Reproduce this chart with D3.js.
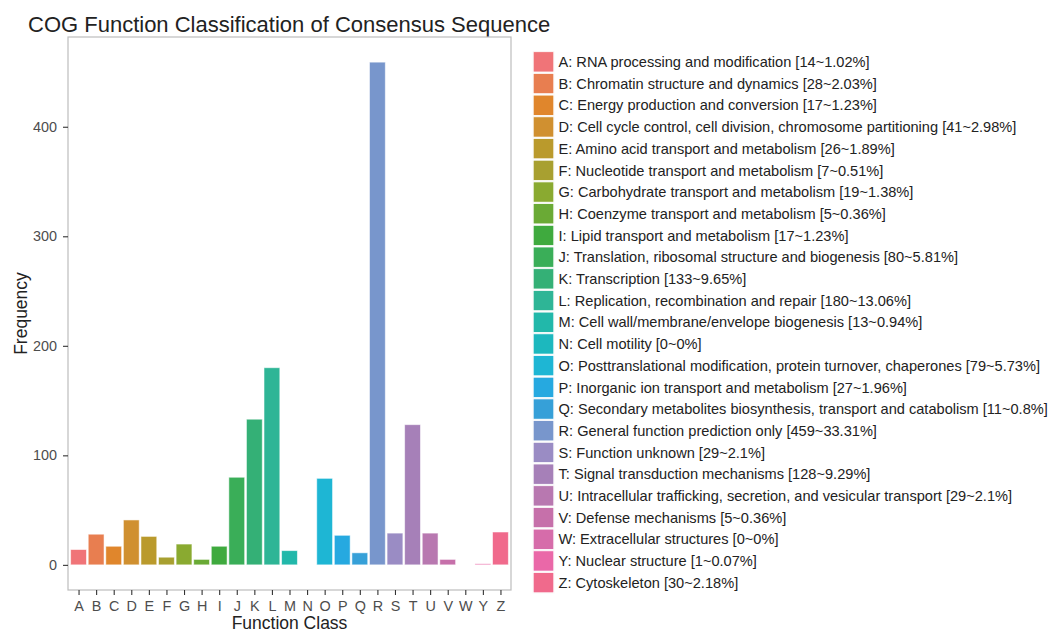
<!DOCTYPE html>
<html>
<head>
<meta charset="utf-8">
<script src="https://cdn.jsdelivr.net/npm/d3@7"></script>
<style>
  html, body { margin: 0; padding: 0; background: #ffffff; }
  svg { display: block; font-family: "Liberation Sans", Arial, Helvetica, sans-serif; }
</style>
</head>
<body>
<svg id="chart" width="1052" height="633"></svg>
<script>
// ---------- data ----------
const categories = ["A","B","C","D","E","F","G","H","I","J","K","L","M","N","O","P","Q","R","S","T","U","V","W","Y","Z"];
const counts = [14, 28, 17, 41, 26, 7, 19, 5, 17, 80, 133, 180, 13, 0, 79, 27, 11, 459, 29, 128, 29, 5, 0, 1, 30];
const percents = ["1.02","2.03","1.23","2.98","1.89","0.51","1.38","0.36","1.23","5.81","9.65","13.06","0.94","0","5.73","1.96","0.8","33.31","2.1","9.29","2.1","0.36","0","0.07","2.18"];
const descriptions = [
  "RNA processing and modification",
  "Chromatin structure and dynamics",
  "Energy production and conversion",
  "Cell cycle control, cell division, chromosome partitioning",
  "Amino acid transport and metabolism",
  "Nucleotide transport and metabolism",
  "Carbohydrate transport and metabolism",
  "Coenzyme transport and metabolism",
  "Lipid transport and metabolism",
  "Translation, ribosomal structure and biogenesis",
  "Transcription",
  "Replication, recombination and repair",
  "Cell wall/membrane/envelope biogenesis",
  "Cell motility",
  "Posttranslational modification, protein turnover, chaperones",
  "Inorganic ion transport and metabolism",
  "Secondary metabolites biosynthesis, transport and catabolism",
  "General function prediction only",
  "Function unknown",
  "Signal transduction mechanisms",
  "Intracellular trafficking, secretion, and vesicular transport",
  "Defense mechanisms",
  "Extracellular structures",
  "Nuclear structure",
  "Cytoskeleton"
];
const yTicks = [0, 100, 200, 300, 400];
const titleText = "COG Function Classification of Consensus Sequence";
const xTitle = "Function Class";
const yTitle = "Frequency";

// ---------- colour palette (hue wheel, as seen in the reference) ----------
const palette = [
  "#f07478", "#e87e50", "#e0862c", "#d09030", "#ba9a2c", "#a8a030", "#8aaa30",
  "#6aaa35", "#3faa3e", "#3aae58", "#34b076", "#2eb596", "#22b8aa", "#1cb8be",
  "#1eb6d4", "#26a9e0", "#36a0d8", "#7896cc", "#9a8cc4", "#a680b8", "#b878b0",
  "#c670aa", "#d66caa", "#ea68a8", "#f06a8c"
];
const color = d3.scaleOrdinal().domain(categories).range(palette);

// ---------- layout ----------
const svg = d3.select("#chart");
const panel = { left: 68, right: 511, top: 37, bottom: 590 };

const x = d3.scalePoint().domain(categories).range([panel.left, panel.right]).padding(0.6);
const barW = x.step() * 0.9;
const yMax = d3.max(counts), yPad = yMax * 0.05;
const y = d3.scaleLinear().domain([-yPad, yMax + yPad]).range([panel.bottom, panel.top]);

// title
svg.append("text")
  .attr("x", 28).attr("y", 32)
  .attr("font-size", 22).attr("fill", "#222")
  .text(titleText);

// bars
svg.append("g").selectAll("rect")
  .data(categories.map((c, i) => ({ c, v: counts[i] })))
  .join("rect")
  .attr("x", d => x(d.c) - barW / 2)
  .attr("width", barW)
  .attr("y", d => y(d.v))
  .attr("height", d => y(0) - y(d.v))
  .attr("fill", d => color(d.c))
  .attr("stroke", d => d.v > 0 ? "#ffffff" : "none")
  .attr("stroke-opacity", 0.6)
  .attr("stroke-width", 0.9);

// panel border
svg.append("rect")
  .attr("x", panel.left).attr("y", panel.top)
  .attr("width", panel.right - panel.left).attr("height", panel.bottom - panel.top)
  .attr("fill", "none").attr("stroke", "#bdbdbd").attr("stroke-width", 1.2);

// y axis
const yAxis = d3.axisLeft(y).tickValues(yTicks).tickSize(5).tickPadding(6);
const gy = svg.append("g").attr("transform", `translate(${panel.left},0)`).call(yAxis);
gy.select(".domain").remove();
gy.selectAll(".tick line").attr("stroke", "#333").attr("stroke-width", 1.1);
gy.selectAll(".tick text").attr("fill", "#4d4d4d").attr("font-size", 14.4)
  .attr("font-family", "Liberation Sans, Arial, sans-serif");

// x axis
const xAxis = d3.axisBottom(x).tickSize(5).tickPadding(6);
const gx = svg.append("g").attr("transform", `translate(0,${panel.bottom})`).call(xAxis);
gx.select(".domain").remove();
gx.selectAll(".tick line").attr("stroke", "#333").attr("stroke-width", 1.1);
gx.selectAll(".tick text").attr("fill", "#4d4d4d").attr("font-size", 14.4)
  .attr("font-family", "Liberation Sans, Arial, sans-serif");

// axis titles
svg.append("text")
  .attr("x", (panel.left + panel.right) / 2).attr("y", 629)
  .attr("text-anchor", "middle").attr("font-size", 17.5).attr("fill", "#222")
  .text(xTitle);
svg.append("text")
  .attr("transform", `translate(27,${(panel.top + panel.bottom) / 2}) rotate(-90)`)
  .attr("text-anchor", "middle").attr("font-size", 17.5).attr("fill", "#222")
  .text(yTitle);

// legend
const lg = { x: 532.5, y: 51, w: 22, h: 21.7 };
const items = svg.append("g").selectAll("g")
  .data(categories.map((c, i) => ({ c, i })))
  .join("g")
  .attr("transform", d => `translate(${lg.x},${lg.y + d.i * lg.h})`);
items.append("rect")
  .attr("width", lg.w).attr("height", lg.h)
  .attr("fill", "#f2f2f2").attr("stroke", "#ffffff").attr("stroke-width", 0.5);
items.append("rect")
  .attr("x", 0.7).attr("y", 0.7)
  .attr("width", lg.w - 1.4).attr("height", lg.h - 1.4)
  .attr("fill", d => color(d.c)).attr("stroke", "#ffffff").attr("stroke-width", 0.8);
items.append("text")
  .attr("x", lg.w + 4).attr("y", lg.h / 2)
  .attr("dy", "0.36em")
  .attr("font-size", 14.6).attr("fill", "#222")
  .text(d => `${d.c}: ${descriptions[d.i]} [${counts[d.i]}~${percents[d.i]}%]`);
</script>
</body>
</html>
